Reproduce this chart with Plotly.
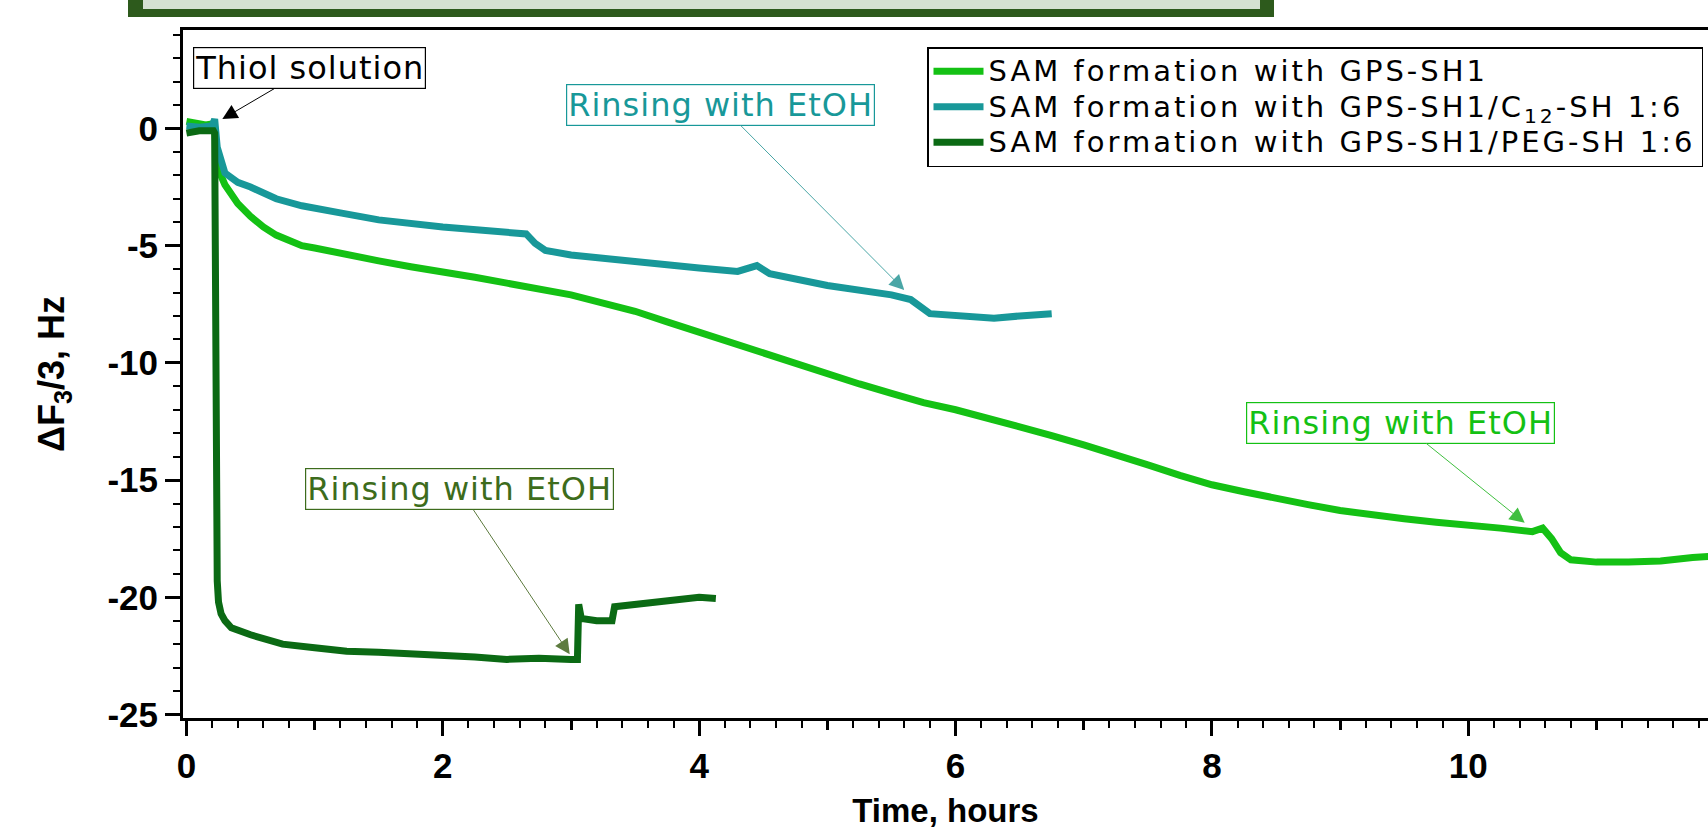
import numpy as np
import plotly.graph_objects as go

# ---------------- data ----------------
t_gps = [0.0, 0.05, 0.1, 0.15, 0.21, 0.22, 0.235, 0.26, 0.3, 0.4, 0.5, 0.6, 0.7, 0.8, 0.9, 1.0,
         1.25, 1.5, 1.75, 2.0, 2.25, 2.5, 2.75, 3.0, 3.25, 3.5, 3.75, 4.0, 4.25, 4.5, 4.75,
         5.0, 5.25, 5.5, 5.75, 6.0, 6.25, 6.5, 6.75, 7.0, 7.25, 7.5, 7.75, 8.0, 8.25, 8.5,
         8.75, 9.0, 9.25, 9.5, 9.75, 10.0, 10.25, 10.5, 10.58, 10.65, 10.72, 10.8, 11.0,
         11.25, 11.5, 11.75, 11.9]
y_gps = [0.3, 0.25, 0.2, 0.15, 0.2, 0.0, -1.2, -1.9, -2.4, -3.2, -3.75, -4.2, -4.55, -4.8, -5.0, -5.1,
         -5.4, -5.65, -5.9, -6.1, -6.35, -6.6, -6.85, -7.1, -7.45, -7.8, -8.25, -8.7, -9.15, -9.6, -10.05,
         -10.5, -10.9, -11.3, -11.7, -12.0, -12.35, -12.75, -13.1, -13.5, -13.9, -14.35, -14.8, -15.2, -15.5, -15.8,
         -16.05, -16.3, -16.5, -16.65, -16.8, -16.9, -17.05, -17.2, -17.05, -17.5, -18.1, -18.4, -18.5,
         -18.5, -18.45, -18.3, -18.25]

t_c12 = [0.0, 0.1, 0.2, 0.22, 0.24, 0.27, 0.3, 0.4, 0.5, 0.7, 0.9, 1.2, 1.5, 2.0, 2.5, 2.65,
         2.72, 2.8, 3.0, 3.5, 4.0, 4.3, 4.45, 4.55, 5.0, 5.5, 5.65, 5.8, 6.0, 6.3, 6.5, 6.75]
y_c12 = [0.1, 0.05, 0.1, 0.4, -0.8, -1.5, -1.9, -2.3, -2.5, -3.0, -3.3, -3.6, -3.9, -4.2, -4.45, -4.5,
         -4.9, -5.2, -5.4, -5.7, -5.95, -6.1, -5.85, -6.2, -6.7, -7.1, -7.3, -7.9, -8.0, -8.1, -8.0, -7.9]

t_peg = [0.0, 0.1, 0.21, 0.22, 0.225, 0.23, 0.235, 0.24, 0.25, 0.27, 0.3, 0.35, 0.5, 0.75, 1.0,
         1.25, 1.5, 1.75, 2.0, 2.25, 2.5, 2.75, 3.0, 3.05, 3.06, 3.08, 3.2, 3.32, 3.34, 3.5,
         3.75, 4.0, 4.13]
y_peg = [-0.2, -0.1, -0.1, -0.2, -5.0, -12.0, -17.0, -19.3, -20.2, -20.7, -21.0, -21.3, -21.6, -22.0, -22.15,
         -22.3, -22.35, -22.4, -22.45, -22.55, -22.65, -22.6, -22.65, -22.65, -20.3, -20.9, -21.0, -21.0, -20.4, -20.3,
         -20.15, -20.0, -20.05]

series_names = ["SAM formation with GPS-SH1",
                "SAM formation with GPS-SH1/C<sub>12</sub>-SH 1:6",
                "SAM formation with GPS-SH1/PEG-SH 1:6"]

x_tick_vals = [0, 2, 4, 6, 8, 10]
x_tick_text = ["0", "2", "4", "6", "8", "10"]
x_mid_tick_vals = [1, 3, 5, 7, 9, 11]
y_tick_vals = [0, -5, -10, -15, -20, -25]
y_tick_text = ["0", "-5", "-10", "-15", "-20", "-25"]

thiol_time = 0.28
rinse_time_gps = 10.44
rinse_time_c12 = 5.6
rinse_time_peg = 2.99

# ---------------- style ----------------
C_GPS = "#14c114"
C_C12 = "#189899"
C_PEG = "#0b6a14"
C_PEG_TXT = "#3d6c1c"
FONT_AX = "Liberation Sans, Arial, sans-serif"
FONT_TXT = "DejaVu Sans, Liberation Sans, sans-serif"

W, H = 1708, 829
ML, MR, MT, MB = 183, 0, 30, 111
PW, PH = W - ML - MR, H - MT - MB


def px_to_paper(px, py):
    return (px - ML) / PW, (H - MB - py) / PH


fig = go.Figure()
for tt, yy, name, col in [(t_gps, y_gps, series_names[0], C_GPS),
                          (t_c12, y_c12, series_names[1], C_C12),
                          (t_peg, y_peg, series_names[2], C_PEG)]:
    fig.add_trace(go.Scatter(x=tt, y=yy, mode="lines",
                             name="<span style='font-size:29px;letter-spacing:3px'>" + name + "</span>",
                             line=dict(color=col, width=7)))

# overlay axis carrying the medium (odd-hour) ticks
fig.add_trace(go.Scatter(x=[], y=[], xaxis="x2", showlegend=False, hoverinfo="skip"))

x_range = [-0.027, 11.87]
y_range = [-25.15, 4.2]

tickfont = dict(family=FONT_AX, size=35, color="black", weight="bold")

lx, _ = px_to_paper(1703, 0)
_, ly = px_to_paper(0, 47)

fig.update_layout(
    width=W, height=H,
    margin=dict(l=ML, r=MR, t=MT, b=MB, autoexpand=False),
    paper_bgcolor="white", plot_bgcolor="white",
    font=dict(family=FONT_TXT, color="black"),
    showlegend=True,
    legend=dict(x=lx, y=ly, xanchor="right", yanchor="top",
                bgcolor="white", bordercolor="black", borderwidth=1.5,
                font=dict(family=FONT_TXT, size=25, color="black"),
                itemwidth=50, tracegroupgap=0),
    xaxis=dict(range=x_range, showgrid=False, zeroline=False, automargin=False,
               showline=True, linecolor="black", linewidth=3, mirror=True,
               ticks="outside", ticklen=15, tickwidth=2.5, tickcolor="black",
               tickmode="array", tickvals=x_tick_vals, ticktext=x_tick_text,
               tickfont=tickfont,
               minor=dict(tickmode="array",
                          tickvals=[round(0.2 * i, 1) for i in range(0, 60)],
                          ticks="outside", ticklen=7, tickwidth=2, tickcolor="black"),
               title=dict(text="Time, hours", standoff=16,
                          font=dict(family=FONT_AX, size=33, weight="bold", color="black"))),
    xaxis2=dict(overlaying="x", anchor="y", side="bottom", range=x_range,
                showgrid=False, zeroline=False, showline=False, automargin=False,
                ticks="outside", ticklen=11, tickwidth=2.5, tickcolor="black",
                tickmode="array", tickvals=x_mid_tick_vals,
                showticklabels=False),
    yaxis=dict(range=y_range, showgrid=False, zeroline=False, automargin=False,
               showline=True, linecolor="black", linewidth=3,
               ticks="outside", ticklen=15, tickwidth=2.5, tickcolor="black",
               tickmode="array", tickvals=y_tick_vals, ticktext=y_tick_text,
               tickfont=tickfont,
               minor=dict(tickmode="array", tickvals=list(range(-25, 5)),
                          ticks="outside", ticklen=7, tickwidth=2, tickcolor="black"),
               title=dict(text="ΔF<sub>3</sub>/3, Hz", standoff=32,
                          font=dict(family=FONT_AX, size=36, weight="bold", color="black"))),
)

# header strip cut off at the top of the picture
ox0, oy0 = px_to_paper(128, 17)
ox1, oy1 = px_to_paper(1274, -5)
ix0, iy0 = px_to_paper(143, 9)
ix1, iy1 = px_to_paper(1260, -5)
fig.add_shape(type="rect", xref="paper", yref="paper", x0=ox0, x1=ox1, y0=oy0, y1=oy1,
              fillcolor="#2d5a1c", line=dict(width=0), layer="above")
fig.add_shape(type="rect", xref="paper", yref="paper", x0=ix0, x1=ix1, y0=iy0, y1=iy1,
              fillcolor="#d5e1d1", line=dict(width=0), layer="above")

# annotations
ann_font = 32


def add_note(text, x_ev, y_ev, ax, ay, txtcol, arrowcol, yshift=8):
    fig.add_annotation(x=x_ev, y=y_ev, xref="x", yref="y",
                       text="<span style='letter-spacing:1px'>" + text + "</span>",
                       showarrow=True,
                       ax=ax, ay=ay, axref="pixel", ayref="pixel", yshift=yshift,
                       arrowhead=2, arrowsize=3, arrowwidth=1, arrowcolor=arrowcol,
                       font=dict(family=FONT_TXT, size=ann_font, color=txtcol),
                       bordercolor=txtcol, borderwidth=1.2, borderpad=1, bgcolor="white")


add_note("Thiol solution", thiol_time, max(y_c12), 87, -51, "black", "black", yshift=0)
add_note("Rinsing with EtOH", rinse_time_c12, float(np.interp(rinse_time_c12, t_c12, y_c12)),
         -184, -185, C_C12, "#4aa6a6")
add_note("Rinsing with EtOH", rinse_time_peg, float(np.interp(rinse_time_peg, t_peg, y_peg)),
         -110, -165, C_PEG_TXT, "#5d7b3f", yshift=5)
add_note("Rinsing with EtOH", rinse_time_gps, float(np.interp(rinse_time_gps, t_gps, y_gps)),
         -124, -100, C_GPS, "#3fbf3f")

fig.write_html("out.html",
               config={"displayModeBar": False},
               post_script="document.body.style.margin='0';document.body.style.padding='0';"
                           "document.body.style.overflow='hidden';")
